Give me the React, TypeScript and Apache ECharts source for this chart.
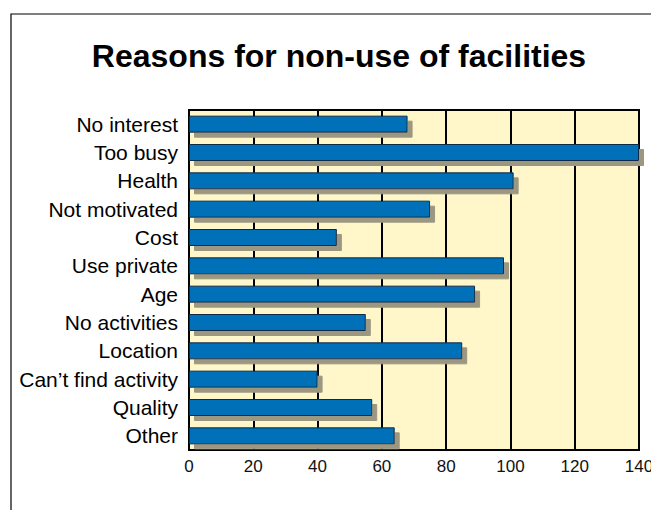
import React, { useEffect, useRef } from "react";
import * as echarts from "echarts";

const categories = [
  "No interest",
  "Too busy",
  "Health",
  "Not motivated",
  "Cost",
  "Use private",
  "Age",
  "No activities",
  "Location",
  "Can\u2019t find activity",
  "Quality",
  "Other",
];
const values = [68, 140, 101, 75, 46, 98, 89, 55, 85, 40, 57, 64];
const xTicks = { min: 0, max: 140, interval: 20 };
const titleText = "Reasons for non-use of facilities";

export default function App() {
  const ref = useRef<HTMLDivElement>(null);
  useEffect(() => {
    if (!ref.current) return;
    const chart = echarts.init(ref.current, null, { renderer: "svg" });
    const font = "'Liberation Sans', Arial, Helvetica, sans-serif";
    chart.setOption({
      animation: false,
      backgroundColor: "#ffffff",
      title: {
        text: titleText,
        left: 334,
        textAlign: "center",
        top: 35,
        textStyle: { fontFamily: font, fontSize: 32, fontWeight: "bold", color: "#000" },
      },
      graphic: [
        {
          type: "rect",
          shape: { x: 11, y: 14, width: 700, height: 600 },
          style: { fill: "none", stroke: "#000", lineWidth: 1.2 },
          silent: true,
          z: -1,
        },
      ],
      grid: {
        left: 189,
        top: 110,
        width: 450,
        height: 340,
        show: true,
        backgroundColor: "#FFF7C9",
        borderColor: "#000",
        borderWidth: 2,
        containLabel: false,
        outerBoundsMode: "none",
      },
      xAxis: {
        type: "value",
        min: xTicks.min,
        max: xTicks.max,
        interval: xTicks.interval,
        axisLine: { show: true, lineStyle: { color: "#000", width: 2 } },
        axisTick: { show: false },
        splitLine: { show: true, lineStyle: { color: "#000", width: 2 } },
        axisLabel: { color: "#111", fontFamily: font, fontSize: 17, margin: 8 },
      },
      yAxis: {
        type: "category",
        data: categories,
        inverse: true,
        axisLine: { show: true, lineStyle: { color: "#000", width: 2 } },
        axisTick: { show: false },
        splitLine: { show: false },
        axisLabel: { color: "#000", fontFamily: font, fontSize: 21, margin: 11 },
      },
      series: [
        {
          type: "bar",
          data: values,
          barWidth: 17,
          itemStyle: {
            color: "#0070B8",
            borderColor: "#0B2C48",
            borderWidth: 1,
            shadowColor: "#9C9781",
            shadowBlur: 0,
            shadowOffsetX: 5,
            shadowOffsetY: 5,
          },
        },
      ],
    });
    return () => chart.dispose();
  }, []);
  return (
    <div
      ref={ref}
      style={{ position: "fixed", left: 0, top: 0, width: 651, height: 510 }}
    />
  );
}
